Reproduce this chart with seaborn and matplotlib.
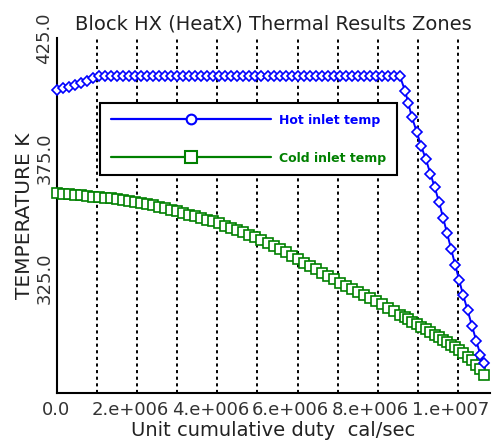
import numpy as np
import matplotlib
matplotlib.use("Agg")
import matplotlib.pyplot as plt
from matplotlib.lines import Line2D
from matplotlib.transforms import ScaledTranslation
import seaborn as sns

# 데이터 (duty: 1e6 cal/sec 단위)
duty = [0.0, 0.15, 0.3, 0.45, 0.6, 0.75, 0.9, 1.05, 1.2, 1.35,
        1.5, 1.65, 1.8, 1.95, 2.1, 2.25, 2.4, 2.55, 2.7, 2.85,
        3.0, 3.15, 3.3, 3.45, 3.6, 3.75, 3.9, 4.05, 4.2, 4.35,
        4.5, 4.65, 4.8, 4.95, 5.1, 5.25, 5.4, 5.55, 5.7, 5.85,
        6.0, 6.15, 6.3, 6.45, 6.6, 6.75, 6.9, 7.05, 7.2, 7.35,
        7.5, 7.65, 7.8, 7.95, 8.1, 8.25, 8.4, 8.55,
        8.68, 8.76, 8.85, 8.97, 9.08, 9.2, 9.31, 9.42, 9.53, 9.63,
        9.73, 9.83, 9.93, 10.03, 10.13, 10.24, 10.35, 10.46, 10.56, 10.65]

hot_temp = [403.4, 404.0, 404.7, 405.5, 406.3, 407.2, 408.2, 409.0, 409.2, 409.2,
            409.2, 409.2, 409.2, 409.2, 409.2, 409.2, 409.2, 409.2, 409.2, 409.2,
            409.2, 409.2, 409.2, 409.2, 409.2, 409.2, 409.2, 409.2, 409.2, 409.2,
            409.2, 409.2, 409.2, 409.2, 409.2, 409.2, 409.2, 409.2, 409.2, 409.2,
            409.2, 409.2, 409.2, 409.2, 409.2, 409.2, 409.2, 409.2, 409.2, 409.2,
            409.2, 409.2, 409.2, 409.2, 409.2, 409.2, 409.2, 409.2,
            403.0, 398.0, 392.0, 386.0, 380.0, 374.5, 368.5, 362.8, 356.5, 350.0,
            343.5, 337.0, 330.5, 324.0, 317.8, 311.5, 305.0, 298.5, 293.0, 289.6]

cold_temp = [360.3, 360.1, 359.9, 359.6, 359.4, 359.2, 358.9, 358.7, 358.4, 358.1,
             357.8, 357.4, 357.0, 356.6, 356.2, 355.7, 355.2, 354.7, 354.1, 353.5,
             352.8, 352.1, 351.4, 350.7, 350.0, 349.3, 348.5, 347.7, 346.8, 345.9,
             345.0, 344.0, 343.0, 341.9, 340.7, 339.5, 338.3, 337.0, 335.6, 334.2,
             332.8, 331.4, 330.0, 328.6, 327.2, 325.8, 324.4, 323.0, 321.7, 320.4,
             319.1, 317.8, 316.5, 315.2, 313.9, 312.5, 311.1, 309.7,
             308.5, 307.7, 306.8, 305.7, 304.6, 303.5, 302.4, 301.3, 300.2, 299.2,
             298.2, 297.1, 296.0, 294.9, 293.6, 292.2, 290.6, 288.8, 286.8, 284.6]

xtick_pos = [0, 2, 4, 6, 8, 10]
xtick_labels = ['0.0', '2.e+006', '4.e+006', '6.e+006', '8.e+006', '1.e+007']
ytick_pos = [325.0, 375.0, 425.0]

duty_cal = np.array(duty) * 1e6

sns.set_style('white')
plt.rcParams['font.family'] = ['DejaVu Sans']

fig = plt.figure(figsize=(4.92, 4.43), dpi=100)
ax = fig.add_axes([0.1159, 0.1129, 0.8801, 0.8013])

txt = '#222222'
blue = '#0000ff'
green = '#008000'

# 세로 점선 그리드
for g in range(1, 11):
    ax.axvline(g * 1e6, color='black', lw=1.4, ls=(0, (1.6, 1.8)), zorder=0)

sns.lineplot(x=duty_cal, y=cold_temp, ax=ax, color=green, lw=1.4,
             marker='s', markersize=7, markerfacecolor='white',
             markeredgecolor=green, markeredgewidth=1.2, clip_on=False,
             legend=False, zorder=3)
sns.lineplot(x=duty_cal, y=hot_temp, ax=ax, color=blue, lw=1.4,
             marker='D', markersize=5, markerfacecolor='white',
             markeredgecolor=blue, markeredgewidth=1.2, clip_on=False,
             legend=False, zorder=4)

ax.set_xlim(0, 10.8e6)
ax.set_ylim(277, 425)

ax.set_xticks(np.array(xtick_pos) * 1e6)
ax.set_xticklabels(xtick_labels)
ax.set_xticks(np.arange(1, 11, 2) * 1e6, minor=True)
ax.set_yticks(ytick_pos)
ax.set_yticklabels([f'{v:.1f}' for v in ytick_pos], rotation=90, va='center')

ax.tick_params(axis='both', which='both', direction='in', length=5, width=1.3,
               color='black', labelsize=13, labelcolor='#333333')
ax.tick_params(axis='x', pad=6)
ax.tick_params(axis='y', pad=2.5)

# x 라벨을 왼쪽으로 약간 이동 (원본처럼)
for i, lab in enumerate(ax.get_xticklabels()):
    dx = -1 if i == 0 else -7
    lab.set_transform(lab.get_transform() + ScaledTranslation(dx / 100, 0, fig.dpi_scale_trans))

for s in ['top', 'right']:
    ax.spines[s].set_visible(False)
for s in ['left', 'bottom']:
    ax.spines[s].set_color('black')
    ax.spines[s].set_linewidth(1.5)

ax.set_title('Block HX (HeatX) Thermal Results Zones', fontsize=14, color=txt, pad=6)
ax.set_xlabel('Unit cumulative duty  cal/sec', fontsize=14, color=txt, labelpad=1)
ax.set_ylabel('TEMPERATURE K', fontsize=14.5, color=txt, labelpad=1)

handles = [
    Line2D([], [], color=blue, lw=1.6, marker='o', markersize=7,
           markerfacecolor='white', markeredgecolor=blue, markeredgewidth=1.5),
    Line2D([], [], color=green, lw=1.6, marker='s', markersize=8,
           markerfacecolor='white', markeredgecolor=green, markeredgewidth=1.5),
]
leg = ax.legend(handles, ['Hot inlet temp', 'Cold inlet temp'],
                loc='upper left', bbox_to_anchor=(0.0993, 0.817),
                borderaxespad=0, fancybox=False, framealpha=1,
                edgecolor='black', handlelength=12.8, handletextpad=0.7,
                labelspacing=2.0, borderpad=0.85, numpoints=1,
                prop={'size': 9, 'weight': 'bold'})
leg.get_frame().set_linewidth(1.5)
for t, c in zip(leg.get_texts(), [blue, green]):
    t.set_color(c)

fig.savefig('out.png', dpi=100)
